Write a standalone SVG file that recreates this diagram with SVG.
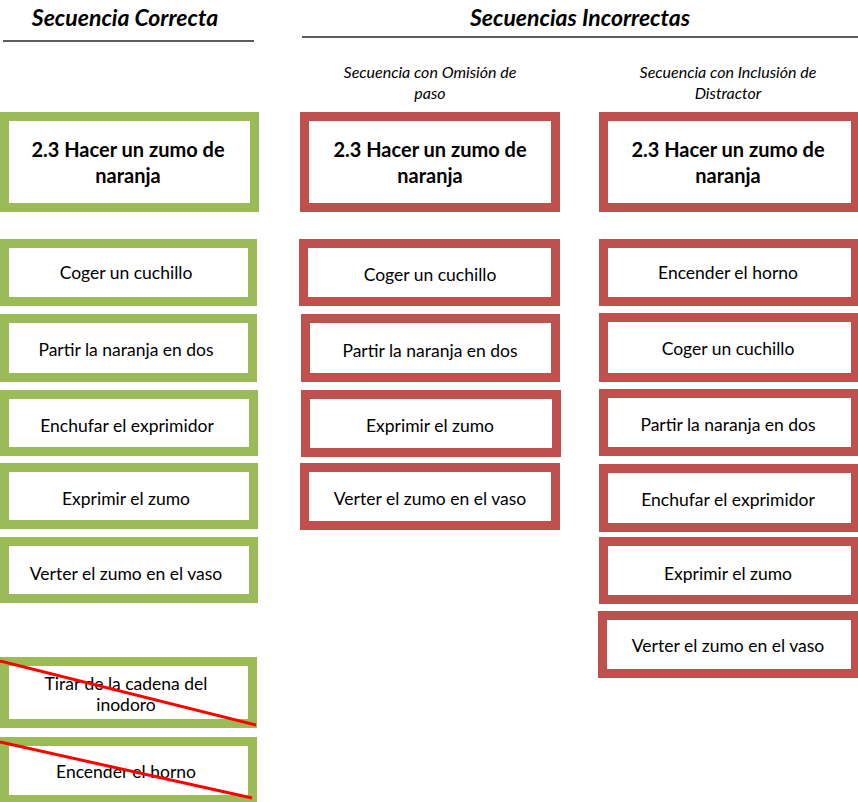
<svg xmlns="http://www.w3.org/2000/svg" width="858" height="802" viewBox="0 0 858 802">
<style>
.g{fill:#fff;stroke:#9BBB59;stroke-width:9}
.r{fill:#fff;stroke:#C0504D;stroke-width:9}
text{font-family:Lato,"Open Sans",sans-serif;fill:#000;text-anchor:middle}
.h{font-size:23px;font-weight:bold;font-style:italic}
.s{font-size:16px;font-style:italic}
.t{font-size:20px;font-weight:bold}
.b{font-size:17.5px}
.hl{stroke:#262626;stroke-width:1.5}
.x{stroke:#FF0000;stroke-width:3}
</style>
<rect width="858" height="802" fill="#fff"/>
<g id="headers">
<text class="h" x="125" y="26">Secuencia Correcta</text>
<line class="hl" x1="3" y1="41" x2="254" y2="41"/>
<text class="h" x="580" y="26">Secuencias Incorrectas</text>
<line class="hl" x1="302" y1="37" x2="858" y2="37"/>
<text class="s" x="430" y="78">Secuencia con Omisión de</text>
<text class="s" x="430" y="99">paso</text>
<text class="s" x="728" y="78">Secuencia con Inclusión de</text>
<text class="s" x="728" y="99">Distractor</text>
</g>
<g id="correct">
<g id="c0"><rect class="g" x="4.5" y="116.5" width="250" height="91"/><text class="t" x="128" y="157">2.3 Hacer un zumo de</text><text class="t" x="128" y="183">naranja</text></g>
<g id="c1"><rect class="g" x="4.5" y="243.5" width="248" height="58"/><text class="b" x="126" y="279">Coger un cuchillo</text></g>
<g id="c2"><rect class="g" x="4.5" y="318.5" width="248" height="59"/><text class="b" x="126" y="356">Partir la naranja en dos</text></g>
<g id="c3"><rect class="g" x="4.5" y="394.5" width="249" height="57"/><text class="b" x="127" y="432">Enchufar el exprimidor</text></g>
<g id="c4"><rect class="g" x="4.5" y="467.5" width="249" height="57"/><text class="b" x="126" y="505">Exprimir el zumo</text></g>
<g id="c5"><rect class="g" x="4.5" y="541.5" width="249" height="57"/><text class="b" x="126" y="580">Verter el zumo en el vaso</text></g>
<g id="c6"><rect class="g" x="4.5" y="661.5" width="248" height="62"/><text class="b" x="126" y="690">Tirar de la cadena del</text><text class="b" x="126" y="711">inodoro</text></g>
<g id="c7"><rect class="g" x="4.5" y="741.5" width="248" height="58"/><text class="b" x="126" y="778">Encender el horno</text></g>
</g>
<g id="omission">
<g id="o0"><rect class="r" x="304.5" y="116.5" width="251" height="91"/><text class="t" x="430" y="157">2.3 Hacer un zumo de</text><text class="t" x="430" y="183">naranja</text></g>
<g id="o1"><rect class="r" x="303.5" y="243.5" width="252" height="58"/><text class="b" x="430" y="281">Coger un cuchillo</text></g>
<g id="o2"><rect class="r" x="305.5" y="318.5" width="250" height="59"/><text class="b" x="430" y="357">Partir la naranja en dos</text></g>
<g id="o3"><rect class="r" x="305.5" y="394.5" width="251" height="58"/><text class="b" x="430" y="432">Exprimir el zumo</text></g>
<g id="o4"><rect class="r" x="304.5" y="467.5" width="251" height="58"/><text class="b" x="430" y="505">Verter el zumo en el vaso</text></g>
</g>
<g id="distractor">
<g id="d0"><rect class="r" x="603.5" y="116.5" width="252" height="91"/><text class="t" x="728" y="157">2.3 Hacer un zumo de</text><text class="t" x="728" y="183">naranja</text></g>
<g id="d1"><rect class="r" x="603.5" y="243.5" width="252" height="58"/><text class="b" x="728" y="279">Encender el horno</text></g>
<g id="d2"><rect class="r" x="603.5" y="317.5" width="252" height="60"/><text class="b" x="728" y="355">Coger un cuchillo</text></g>
<g id="d3"><rect class="r" x="603.5" y="393.5" width="252" height="58"/><text class="b" x="728" y="431">Partir la naranja en dos</text></g>
<g id="d4"><rect class="r" x="603.5" y="468.5" width="252" height="59"/><text class="b" x="728" y="506">Enchufar el exprimidor</text></g>
<g id="d5"><rect class="r" x="603.5" y="541.5" width="252" height="58"/><text class="b" x="728" y="580">Exprimir el zumo</text></g>
<g id="d6"><rect class="r" x="602.5" y="615.5" width="253" height="58"/><text class="b" x="728" y="652">Verter el zumo en el vaso</text></g>
</g>
<g id="connectors">
<line class="x" x1="0" y1="661" x2="256" y2="725"/>
<line class="x" x1="0" y1="742" x2="252" y2="798"/>
</g>
</svg>
